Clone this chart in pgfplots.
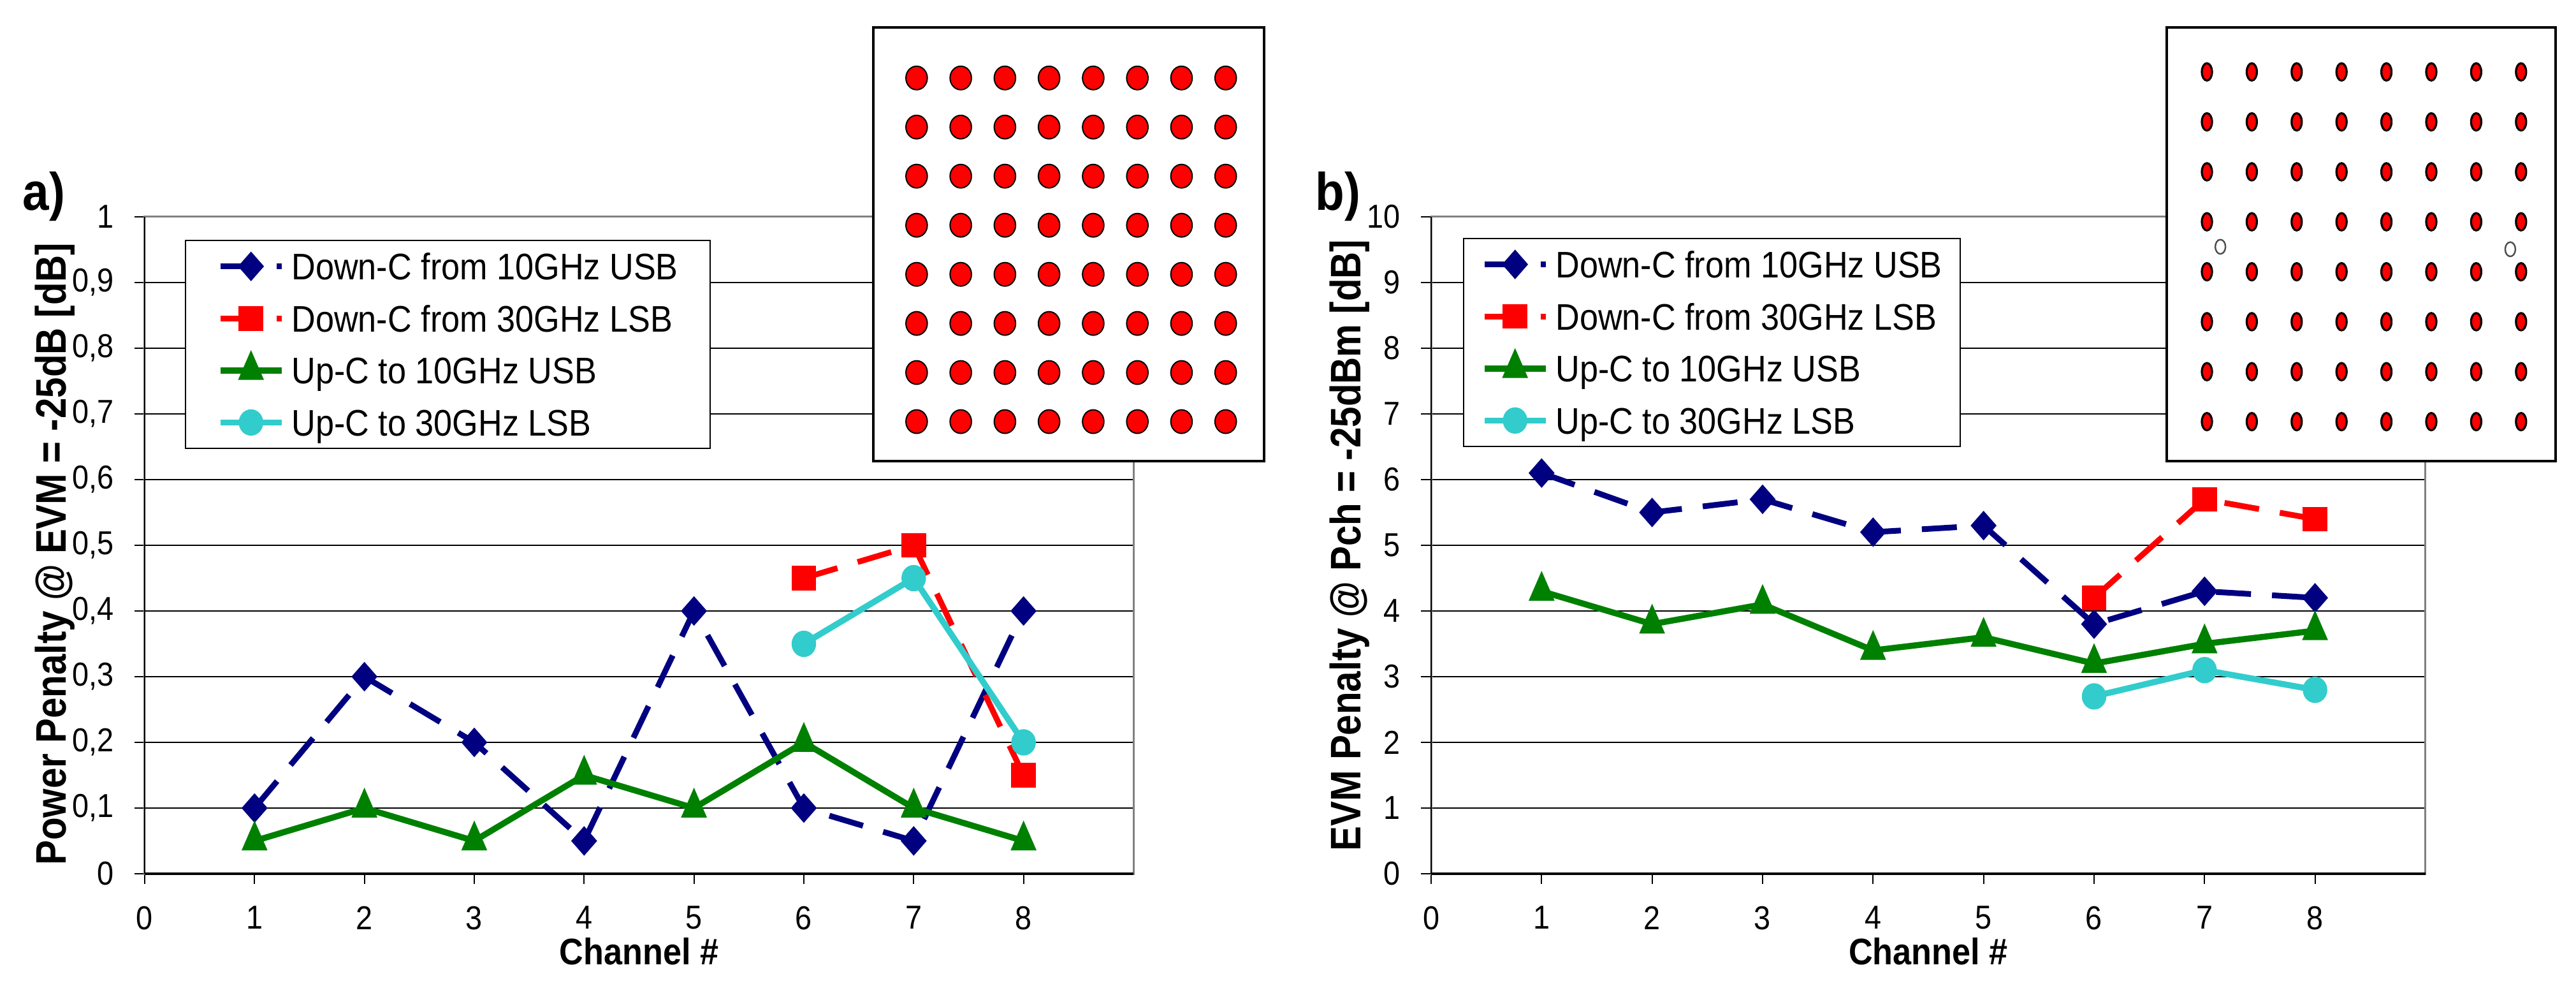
\documentclass[border=0pt]{standalone}
\usepackage{pgfplots}
\pgfplotsset{compat=1.18}
\usepackage{pgfplotstable}
\usepackage{fontspec}
\setmainfont{Liberation Sans}[FakeStretch=0.9]
\newfontfamily\yfont{Liberation Sans}[FakeStretch=0.87]
\definecolor{navy}{RGB}{0,0,128}
\definecolor{cred}{RGB}{255,0,0}
\definecolor{cgreen}{RGB}{0,128,0}
\definecolor{ccyan}{RGB}{51,204,204}
\definecolor{bgray}{RGB}{128,128,128}

% ---------------- data ----------------
\pgfplotstableread{
x y
1 0.1
2 0.3
3 0.2
4 0.05
5 0.4
6 0.1
7 0.05
8 0.4
}\aDten
\pgfplotstableread{
x y
6 0.45
7 0.5
8 0.15
}\aDthirty
\pgfplotstableread{
x y
1 0.05
2 0.1
3 0.05
4 0.15
5 0.1
6 0.2
7 0.1
8 0.05
}\aUten
\pgfplotstableread{
x y
6 0.35
7 0.45
8 0.2
}\aUthirty
\pgfplotstableread{
x y
1 6.1
2 5.5
3 5.7
4 5.2
5 5.3
6 3.8
7 4.3
8 4.2
}\bDten
\pgfplotstableread{
x y
6 4.2
7 5.7
8 5.4
}\bDthirty
\pgfplotstableread{
x y
1 4.3
2 3.8
3 4.1
4 3.4
5 3.6
6 3.2
7 3.5
8 3.7
}\bUten
\pgfplotstableread{
x y
6 2.7
7 3.1
8 2.8
}\bUthirty
\pgfplotstableread{
x y
1 1
2 1
3 1
4 1
5 1
6 1
7 1
8 1
1 2
2 2
3 2
4 2
5 2
6 2
7 2
8 2
1 3
2 3
3 3
4 3
5 3
6 3
7 3
8 3
1 4
2 4
3 4
4 4
5 4
6 4
7 4
8 4
1 5
2 5
3 5
4 5
5 5
6 5
7 5
8 5
1 6
2 6
3 6
4 6
5 6
6 6
7 6
8 6
1 7
2 7
3 7
4 7
5 7
6 7
7 7
8 7
1 8
2 8
3 8
4 8
5 8
6 8
7 8
8 8
}\constgrid

\pgfplotsset{
 mainax/.style={
  scale only axis, height=257.5pt, anchor=south west,
  xmin=0, xmax=9, ymin=0,
  xtick={0,1,2,3,4,5,6,7,8},
  axis line style={draw=bgray, line width=0.75pt},
  tick style={black, line width=0.5pt},
  tick align=outside, major tick length=4pt,
  xtick pos=bottom, ytick pos=left,
  ymajorgrids, major grid style={black, line width=0.4pt},
  tick label style={font=\fontsize{13pt}{15pt}\selectfont},
  /pgf/number format/assume math mode=true,
  /pgf/number format/use comma,
  xticklabel style={anchor=north, inner sep=0pt, yshift=-8.5pt},
  yticklabel style={anchor=east, inner sep=0pt, xshift=-8pt},
  xlabel style={at={(rel axis cs:0.5,0)}, anchor=north, inner sep=0pt, yshift=-25pt,
     font=\bfseries\fontsize{14.5pt}{17pt}\selectfont},
  ylabel style={at={(rel axis cs:0,0.5)}, anchor=center, inner sep=0pt,
     font=\yfont\bfseries\fontsize{16.75pt}{19pt}\selectfont},
  legend cell align=left,
  legend image code/.code={\draw[mark repeat=2,mark phase=2,##1] plot coordinates {(0pt,0pt) (12pt,0pt) (24pt,0pt)};},
  legend style={anchor=north west, draw=black, line width=0.5pt, fill=white,
     font=\fontsize{14.5pt}{17pt}\selectfont, inner ysep=4.9pt, row sep=9.9pt,
     nodes={inner sep=0pt, text height=10.5pt, text depth=0pt},
     /tikz/every odd column/.style={column sep=2.75pt}},
  after end axis/.append code={
    \draw[black, line width=0.6pt] (rel axis cs:0,0) -- (rel axis cs:0,1);
    \draw[black, line width=1.1pt] (rel axis cs:0,0) -- (rel axis cs:1,0);
  },
 },
 sA/.style={navy, line width=2.25pt, dash pattern=on 13.75pt off 8.25pt, mark=diamond*, mark size=4.1pt, mark options={solid, xscale=1.17}},
 sB/.style={cred, line width=2.25pt, dash pattern=on 13.75pt off 8.25pt, mark=square*, mark size=3.7pt, mark options={solid}},
 sC/.style={cgreen, line width=2.4pt, mark=triangle*, mark size=3.75pt, mark options={yscale=1.33}},
 sD/.style={ccyan, line width=2.4pt, mark=*, mark size=3.6pt, mark options={yscale=1.1}},
 inset/.style={scale only axis, anchor=south west, height=170pt,
  xtick=\empty, ytick=\empty, axis line style={black, line width=1.1pt},
  axis background/.style={fill=white}},
}

\begin{document}
\begin{tikzpicture}
\useasboundingbox (0pt,0pt) rectangle (1010.25pt,386.25pt);

% ---------------- a) ----------------
\begin{axis}[mainax, at={(56.75pt,43.75pt)}, width=387.75pt,
  ymax=1, ytick={0,0.1,0.2,0.3,0.4,0.5,0.6,0.7,0.8,0.9,1},
  xlabel={Channel \#}, ylabel={Power Penalty @ EVM = -25dB [dB]},
  ylabel style={yshift=35.25pt, xshift=-3.5pt},
  legend style={at={(0.0406,0.965)}, inner xsep=12.5pt}]
\addplot[sA] table {\aDten};
\addlegendentry{Down-C from 10GHz USB}
\addplot[sB] table {\aDthirty};
\addlegendentry{Down-C from 30GHz LSB}
\addplot[sC] table {\aUten};
\addlegendentry{Up-C to 10GHz USB}
\addplot[sD] table {\aUthirty};
\addlegendentry{Up-C to 30GHz LSB}
\end{axis}

\begin{axis}[inset, at={(342.5pt,205.5pt)}, width=153.25pt,
  xmin=0.02, xmax=8.87, ymin=0.195, ymax=9.03]
\addplot[only marks, mark=*, mark size=4.2pt, mark options={fill=cred, draw=black, line width=0.5pt, yscale=1.1}] table {\constgrid};
\end{axis}

% ---------------- b) ----------------
\begin{axis}[mainax, at={(561.25pt,43.75pt)}, width=390pt,
  ymax=10, ytick={0,1,2,3,4,5,6,7,8,9,10},
  xlabel={Channel \#}, ylabel={EVM Penalty @ Pch = -25dBm [dB]},
  ylabel style={yshift=32pt},
  legend style={at={(0.032,0.968)}, inner xsep=7pt}]
\addplot[sA] table {\bDten};
\addlegendentry{Down-C from 10GHz USB}
\addplot[sB] table {\bDthirty};
\addlegendentry{Down-C from 30GHz LSB}
\addplot[sC] table {\bUten};
\addlegendentry{Up-C to 10GHz USB}
\addplot[sD] table {\bUthirty};
\addlegendentry{Up-C to 30GHz LSB}
\end{axis}

\begin{axis}[inset, at={(849.75pt,205.5pt)}, width=152.5pt,
  xmin=0.105, xmax=8.77, ymin=0.21, ymax=8.89]
\addplot[only marks, mark=*, mark size=2pt, mark options={fill=cred, draw=black, line width=0.8pt, yscale=1.7}] table {\constgrid};
\addplot[only marks, mark=o, mark size=2pt, mark options={draw=black!70, line width=0.6pt, yscale=1.4}] coordinates {(1.3,4.5) (7.76,4.45)};
\end{axis}

% panel letters
\node[anchor=base west, inner sep=0pt, font=\bfseries\fontsize{20.75pt}{24pt}\selectfont] at (8.75pt,303.75pt) {a)};
\node[anchor=base west, inner sep=0pt, font=\bfseries\fontsize{20.75pt}{24pt}\selectfont] at (515.75pt,303.75pt) {b)};
\end{tikzpicture}
\end{document}
